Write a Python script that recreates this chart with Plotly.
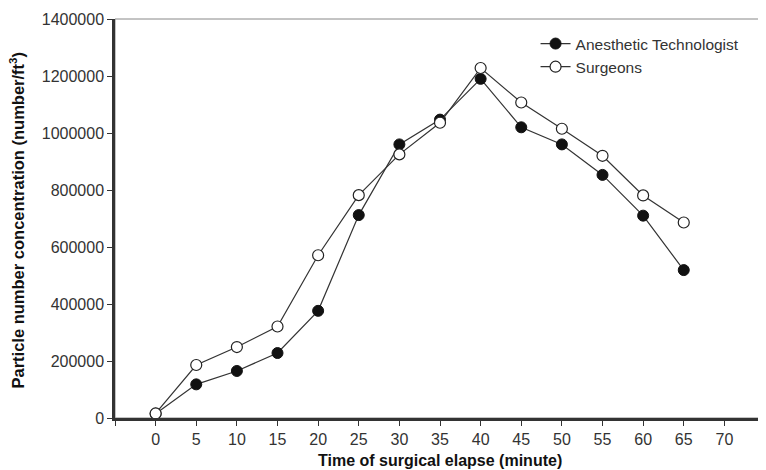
import plotly.graph_objects as go

time_min = [0, 5, 10, 15, 20, 25, 30, 35, 40, 45, 50, 55, 60, 65]
anesthetic = [15000, 118000, 165000, 228000, 376000, 712000, 960000, 1047000,
              1190000, 1020000, 960000, 853000, 710000, 519000]
surgeons = [16000, 186000, 249000, 321000, 571000, 782000, 925000, 1036000,
            1228000, 1107000, 1015000, 920000, 781000, 686000]

x_tickvals = [-5, 0, 5, 10, 15, 20, 25, 30, 35, 40, 45, 50, 55, 60, 65, 70, 75]
x_ticktext = [""] + [str(v) for v in range(0, 75, 5)] + [""]
y_tickvals = [0, 200000, 400000, 600000, 800000, 1000000, 1200000, 1400000]

x_title = "Time of surgical elapse (minute)"
y_title = "Particle number concentration (number/ft<sup>3</sup>)"

font_family = "Liberation Sans, Arial, Helvetica, sans-serif"
line_col = "#333333"

fig = go.Figure()
fig.add_trace(go.Scatter(
    x=time_min, y=anesthetic, name="Anesthetic Technologist",
    mode="lines+markers",
    line=dict(color=line_col, width=1.2),
    marker=dict(symbol="circle", size=11, color="#111111",
                line=dict(color="#111111", width=1)),
))
fig.add_trace(go.Scatter(
    x=time_min, y=surgeons, name="Surgeons",
    mode="lines+markers",
    line=dict(color=line_col, width=1.2),
    marker=dict(symbol="circle", size=11, color="white",
                line=dict(color="#222222", width=1.2)),
))

# page body has a default 8px margin, so the figure is sized to fit the window
fig.update_layout(
    width=758, height=462,
    margin=dict(l=107, r=1, t=11, b=52),
    paper_bgcolor="white", plot_bgcolor="white",
    font=dict(family=font_family, size=16, color="#222222"),
    showlegend=True,
    legend=dict(x=0.647, y=0.98, xanchor="left", yanchor="top",
                bgcolor="rgba(0,0,0,0)", font=dict(size=15.5, color="#333333"),
                tracegroupgap=0, itemwidth=30),
    shapes=[dict(type="rect", xref="paper", yref="paper", x0=0, y0=0, x1=1, y1=1,
                 line=dict(color="#888888", width=1), layer="below")],
    annotations=[
        dict(text="<b>" + x_title + "</b>", xref="paper", yref="paper",
             x=0.5, y=0, yshift=-42, xanchor="center", yanchor="middle",
             showarrow=False, font=dict(size=16, color="#111111")),
        dict(text="<b>" + y_title + "</b>", xref="paper", yref="paper",
             x=0, xshift=-97, y=0.495, xanchor="center", yanchor="middle",
             textangle=-90, showarrow=False, font=dict(size=16.5, color="#111111")),
    ],
)
fig.update_xaxes(
    range=[-5, 75], tickmode="array", tickvals=x_tickvals, ticktext=x_ticktext,
    showgrid=False, zeroline=False, automargin=False,
    showline=True, linecolor=line_col, linewidth=2.5,
    ticks="outside", ticklen=5, tickwidth=1, tickcolor=line_col,
    tickfont=dict(size=16, color="#333333"),
)
fig.update_yaxes(
    range=[0, 1400000], tickmode="array", tickvals=y_tickvals,
    tickformat="d",
    showgrid=False, zeroline=False, automargin=False,
    showline=True, linecolor=line_col, linewidth=2.5,
    ticks="outside", ticklen=5, tickwidth=1, tickcolor=line_col,
    tickfont=dict(size=16, color="#333333"),
)

fig.write_html("out.html")
